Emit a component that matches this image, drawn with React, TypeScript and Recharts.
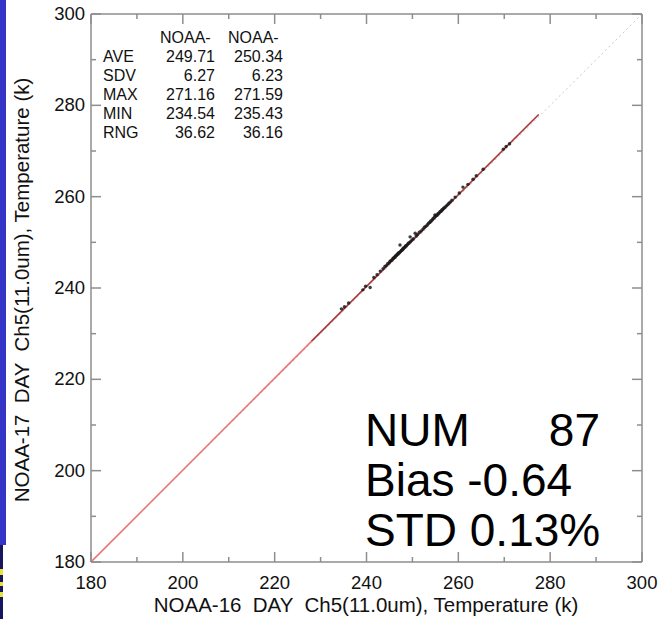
import React from "react";
import { ScatterChart, Scatter, XAxis, YAxis } from "recharts";

// matched pixels, NOAA-16 (x) vs NOAA-17 (y), Ch5 brightness temperature (K)
const noaa16 = [
  234.54, 235.2, 236.1, 239.2, 239.8, 240.8, 241.6, 242.3, 243.0, 243.6,
  244.0, 244.3, 244.6, 244.9, 245.1, 245.3, 245.5, 245.7, 245.9, 246.0,
  246.2, 246.3, 246.5, 246.6, 246.8, 246.9, 247.0, 247.2, 247.3, 247.4,
  247.6, 247.7, 247.9, 248.0, 248.2, 248.4, 248.5, 248.7, 248.9, 249.1,
  249.3, 249.5, 249.6, 249.9, 250.2, 250.6, 250.8, 251.1, 251.5, 251.9,
  252.3, 252.6, 252.9, 253.2, 253.5, 253.8, 254.0, 254.3, 254.5, 254.7,
  254.9, 255.0, 255.2, 255.4, 255.6, 255.8, 256.0, 256.2, 256.4, 256.6,
  256.8, 257.0, 257.3, 257.6, 257.9, 258.2, 258.6, 259.3, 260.2, 261.0,
  262.1, 263.2, 263.9, 265.4, 269.8, 270.4, 271.16,
];
const noaa17 = [
  235.43, 235.9, 236.7, 239.6, 240.4, 240.1, 242.3, 242.9, 243.7, 244.2,
  244.7, 244.9, 245.3, 245.5, 245.8, 246.0, 246.1, 246.4, 246.5, 246.7,
  246.8, 247.0, 247.1, 247.3, 247.4, 247.6, 247.7, 247.8, 249.4, 248.0,
  248.2, 248.3, 248.5, 248.7, 248.8, 249.0, 249.2, 249.3, 249.5, 249.8,
  249.9, 251.2, 250.2, 250.5, 250.8, 252.0, 251.4, 251.7, 252.2, 252.5,
  252.9, 253.3, 253.5, 253.8, 254.2, 254.4, 254.7, 254.9, 255.2, 255.4,
  256.0, 255.7, 255.9, 256.0, 256.3, 256.4, 256.7, 256.8, 257.1, 257.2,
  257.5, 257.6, 257.9, 258.2, 258.5, 258.8, 259.2, 259.9, 260.8, 262.1,
  262.7, 263.8, 264.6, 266.0, 270.4, 271.0, 271.59,
];

const axisTicks = [180, 190, 200, 210, 220, 230, 240, 250, 260, 270, 280, 290, 300];
const axisDomain = [180, 300];

const oneToOne = [
  { x: 180, y: 180 },
  { x: 300, y: 300 },
];
const fitLower = [
  { x: 180, y: 180 },
  { x: 228, y: 228.3 },
];
const fitUpper = [
  { x: 228, y: 228.3 },
  { x: 277.5, y: 278.0 },
];

const statHeader = ["NOAA-", "NOAA-"];
const statNames = ["AVE", "SDV", "MAX", "MIN", "RNG"];
const statA = ["249.71", "6.27", "271.16", "234.54", "36.62"];
const statB = ["250.34", "6.23", "271.59", "235.43", "36.16"];

const numLabel = "NUM";
const numValue = "87";
const biasText = "Bias -0.64";
const stdText = "STD 0.13%";

const xTitle = "NOAA-16  DAY  Ch5(11.0um), Temperature (k)";
const yTitle = "NOAA-17  DAY  Ch5(11.0um), Temperature (k)";

const points = noaa16.map((x, i) => ({ x, y: noaa17[i] }));

const FONT = "'Liberation Sans', Arial, Helvetica, sans-serif";
const FRAME = "#8e8e8e";
const LABEL = "#111";

const tickLen = (v: number) => (v % 20 === 0 ? 10 : 5);

const BottomTick = (props: any) => {
  const { x, y, payload } = props;
  const v = payload.value;
  return (
    <g>
      <line x1={x} y1={y} x2={x} y2={y - tickLen(v)} stroke={FRAME} strokeWidth={1.5} />
      {v % 20 === 0 && (
        <text x={x} y={y + 27} textAnchor="middle" fontSize={18.5} fontFamily={FONT} fill={LABEL}>
          {v}
        </text>
      )}
    </g>
  );
};

const TopTick = (props: any) => {
  const { x, y, payload } = props;
  return <line x1={x} y1={y} x2={x} y2={y + tickLen(payload.value)} stroke={FRAME} strokeWidth={1.5} />;
};

const LeftTick = (props: any) => {
  const { x, y, payload } = props;
  const v = payload.value;
  return (
    <g>
      <line x1={x} y1={y} x2={x + tickLen(v)} y2={y} stroke={FRAME} strokeWidth={1.5} />
      {v % 20 === 0 && (
        <text x={x - 6} y={y + 6} textAnchor="end" fontSize={18.5} fontFamily={FONT} fill={LABEL}>
          {v}
        </text>
      )}
    </g>
  );
};

const RightTick = (props: any) => {
  const { x, y, payload } = props;
  return <line x1={x} y1={y} x2={x - tickLen(payload.value)} y2={y} stroke={FRAME} strokeWidth={1.5} />;
};

const Dot = (p: any) => <circle cx={p.cx} cy={p.cy} r={1.7} fill="#1a1a1a" fillOpacity={0.85} />;
const NoDot = () => <g />;

export default function App() {
  return (
    <div
      style={{
        position: "absolute",
        left: 0,
        top: 0,
        width: 662,
        height: 619,
        background: "#fff",
        overflow: "hidden",
      }}
    >
      {/* slide edge behind the figure */}
      <div style={{ position: "absolute", left: 0, top: 0, width: 6, height: 545, background: "#3434c6" }} />
      <div style={{ position: "absolute", left: 0, top: 545, width: 3, height: 74, background: "#16165e" }} />
      <div style={{ position: "absolute", left: 0, top: 569, width: 3, height: 6, background: "#e8e23a" }} />
      <div style={{ position: "absolute", left: 0, top: 582, width: 3, height: 4, background: "#e8e23a" }} />
      <div style={{ position: "absolute", left: 0, top: 592, width: 3, height: 5, background: "#e8e23a" }} />

      <ScatterChart
        width={662}
        height={619}
        margin={{ top: 13, right: 19, bottom: 27, left: 31 }}
        style={{ position: "absolute", left: 0, top: 0 }}
      >
        <XAxis
          xAxisId="b"
          type="number"
          dataKey="x"
          domain={axisDomain}
          ticks={axisTicks}
          interval={0}
          height={30}
          tickSize={0}
          tickMargin={0}
          tickLine={false}
          axisLine={{ stroke: FRAME, strokeWidth: 1.5 }}
          tick={<BottomTick />}
          allowDataOverflow
        />
        <XAxis
          xAxisId="t"
          orientation="top"
          type="number"
          dataKey="x"
          domain={axisDomain}
          ticks={axisTicks}
          interval={0}
          height={1}
          tickSize={0}
          tickMargin={0}
          tickLine={false}
          axisLine={{ stroke: FRAME, strokeWidth: 1.5 }}
          tick={<TopTick />}
          allowDataOverflow
        />
        <YAxis
          yAxisId="l"
          type="number"
          dataKey="y"
          domain={axisDomain}
          ticks={axisTicks}
          interval={0}
          width={60}
          tickSize={0}
          tickMargin={0}
          tickLine={false}
          axisLine={{ stroke: FRAME, strokeWidth: 1.5 }}
          tick={<LeftTick />}
          allowDataOverflow
        />
        <YAxis
          yAxisId="r"
          orientation="right"
          type="number"
          dataKey="y"
          domain={axisDomain}
          ticks={axisTicks}
          interval={0}
          width={1}
          tickSize={0}
          tickMargin={0}
          tickLine={false}
          axisLine={{ stroke: FRAME, strokeWidth: 1.5 }}
          tick={<RightTick />}
          allowDataOverflow
        />
        <Scatter
          data={oneToOne}
          xAxisId="t"
          yAxisId="r"
          shape={NoDot}
          line={{ stroke: "#c8c8c8", strokeWidth: 1, strokeDasharray: "2 3" }}
          isAnimationActive={false}
        />
        <Scatter
          data={fitLower}
          xAxisId="b"
          yAxisId="l"
          shape={NoDot}
          line={{ stroke: "#e87878", strokeWidth: 1.6 }}
          isAnimationActive={false}
        />
        <Scatter
          data={fitUpper}
          xAxisId="b"
          yAxisId="l"
          shape={NoDot}
          line={{ stroke: "#a83838", strokeWidth: 1.6 }}
          isAnimationActive={false}
        />
        <Scatter data={points} xAxisId="b" yAxisId="l" shape={Dot} isAnimationActive={false} />
      </ScatterChart>

      <svg
        width={662}
        height={619}
        style={{ position: "absolute", left: 0, top: 0, pointerEvents: "none" }}
        fontFamily={FONT}
      >
        <g fontSize={16} fill={LABEL}>
          <text x={160} y={43}>{statHeader[0]}</text>
          <text x={228} y={43}>{statHeader[1]}</text>
          {statNames.map((n, i) => (
            <g key={n}>
              <text x={103} y={62 + i * 19}>{n}</text>
              <text x={215} y={62 + i * 19} textAnchor="end">{statA[i]}</text>
              <text x={283} y={62 + i * 19} textAnchor="end">{statB[i]}</text>
            </g>
          ))}
        </g>
        <g fontSize={46} fill="#000">
          <text x={365} y={446}>{numLabel}</text>
          <text x={600} y={446} textAnchor="end">{numValue}</text>
          <text x={365} y={496}>{biasText}</text>
          <text x={365} y={546}>{stdText}</text>
        </g>
        <text
          x={366}
          y={612}
          textAnchor="middle"
          fontSize={20.5}
          fill={LABEL}
          style={{ whiteSpace: "pre" }}
        >
          {xTitle}
        </text>
        <text
          x={0}
          y={0}
          transform="translate(29, 290) rotate(-90)"
          textAnchor="middle"
          fontSize={20.5}
          fill={LABEL}
          style={{ whiteSpace: "pre" }}
        >
          {yTitle}
        </text>
      </svg>
    </div>
  );
}
